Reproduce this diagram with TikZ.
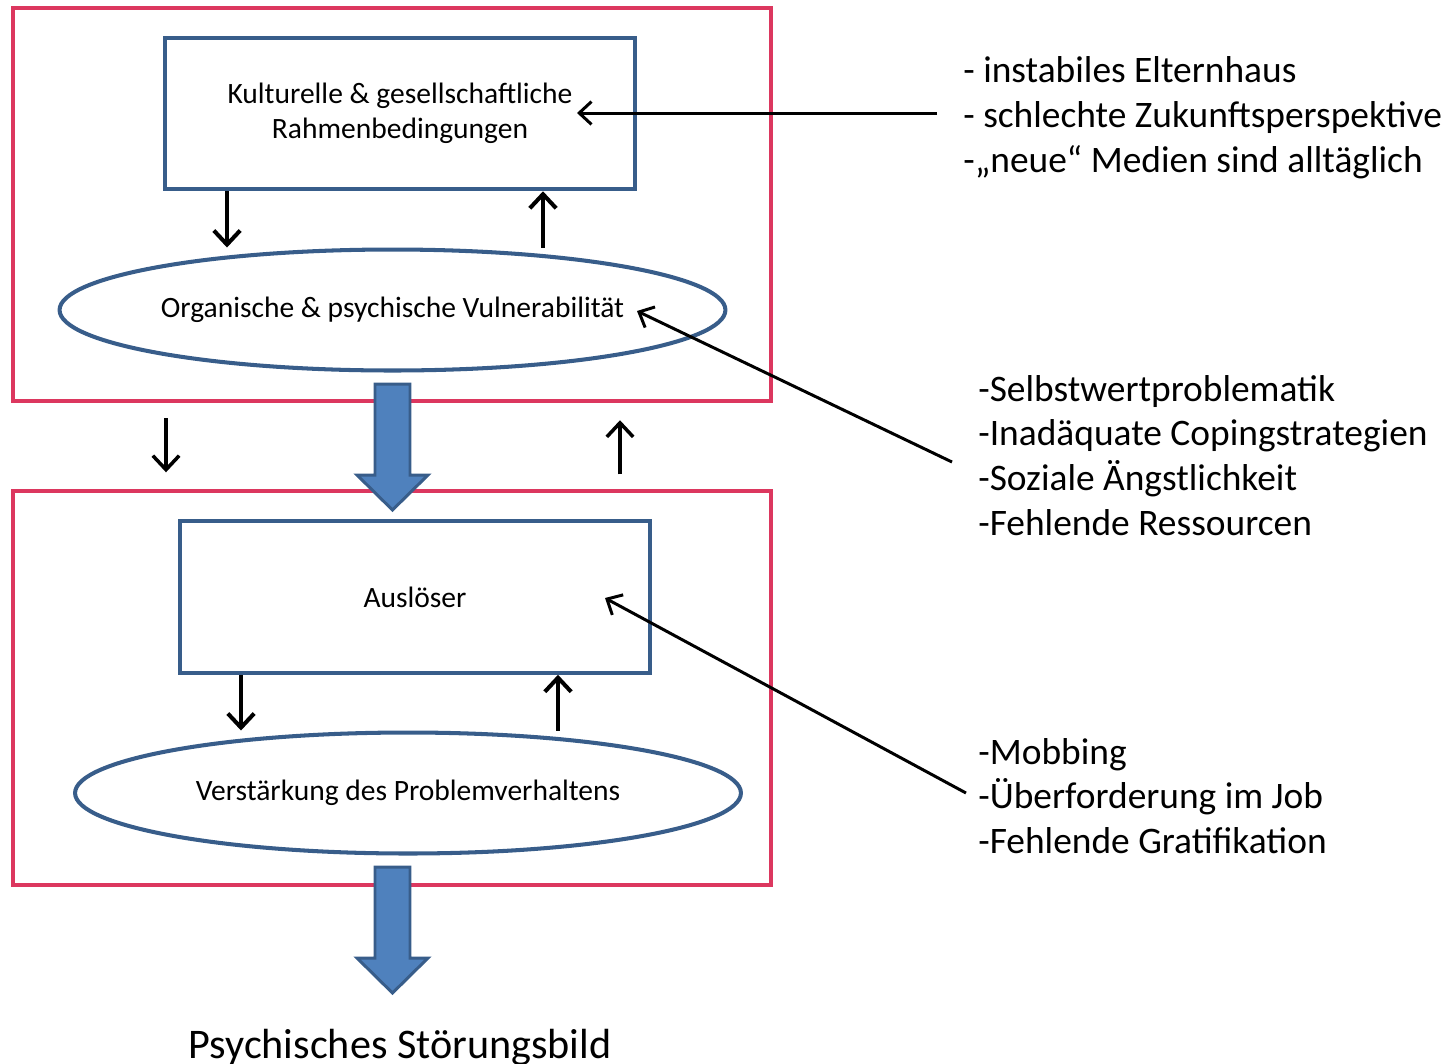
\documentclass[tikz,border=0pt]{standalone}
\usepackage{fontspec}
\setmainfont{Carlito}
\usetikzlibrary{arrows.meta, shapes.geometric, positioning}
\definecolor{framecol}{RGB}{220,55,95}
\definecolor{boxcol}{RGB}{56,93,138}
\definecolor{blockcol}{RGB}{79,129,189}

\begin{document}
\begin{tikzpicture}[x=0.02cm, y=-0.02cm,
  frame/.style={draw=framecol, line width=2.3pt, minimum width=15.16cm, minimum height=7.87cm},
  stage/.style={draw=boxcol, line width=2.3pt, minimum width=9.4cm, minimum height=3.03cm, align=center, font=\fontsize{16.8}{20}\selectfont},
  factor/.style={draw=boxcol, line width=2.3pt, ellipse, minimum width=13.32cm, minimum height=2.42cm, inner sep=0pt, font=\fontsize{16.8}{20}\selectfont},
  cues/.style={anchor=west, align=left, inner sep=0pt, font=\fontsize{21.3}{25.5}\selectfont},
  feed/.style={-{Straight Barb[length=8pt,width=15pt]}, line width=2.3pt},
  gap/.style={-{Straight Barb[length=8pt,width=15pt]}, line width=2pt},
  link/.style={-{Straight Barb[length=7pt,width=13pt]}, line width=1.7pt},
  block/.style={fill=blockcol, draw=boxcol, line width=1.7pt, line join=miter}]
  \useasboundingbox (0,0) rectangle (1448,1063);

  % outer frames
  \node[frame] (upper) at (392,204.5) {};
  \node[frame] (lower) at (392,688) {};

  % inner stages
  \node[stage] (kultur) at (400,113.5) {Kulturelle \& gesellschaftliche\\Rahmenbedingungen};
  \node[factor] (vuln) at (392.5,310) {Organische \& psychische Vulnerabilität};
  \node[stage] (ausl) at (415,597) {Auslöser};
  \node[factor] (verst) at (408,793) {Verstärkung des Problemverhaltens};
  \node[font=\fontsize{24}{28}\selectfont, anchor=base, inner sep=0pt] (bild) at (400,1058) {Psychisches Störungsbild};

  % right-hand lists
  \node[cues] (eltern) at (963,118) {- instabiles Elternhaus\\- schlechte Zukunftsperspektive\\-„neue“ Medien sind alltäglich};
  \node[cues] (selbst) at (978,455.5) {-Selbstwertproblematik\\-Inadäquate Copingstrategien\\-Soziale Ängstlichkeit\\-Fehlende Ressourcen};
  \node[cues] (mobbing) at (978,796) {-Mobbing\\-Überforderung im Job\\-Fehlende Gratifikation};

  % x positions of the small arrows
  \coordinate (xa) at (227,0);
  \coordinate (xb) at (543,0);
  \coordinate (xc) at (241,0);
  \coordinate (xd) at (558,0);
  \draw[feed] (kultur.south -| xa) -- (vuln.north -| xa);
  \draw[feed] (vuln.north -| xb) -- (kultur.south -| xb);
  \draw[feed] (ausl.south -| xc) -- (verst.north -| xc);
  \draw[feed] (verst.north -| xd) -- (ausl.south -| xd);

  % between the frames
  \coordinate (xe) at (166,0);
  \coordinate (xf) at (620,0);
  \draw[gap] ([yshift=-0.3cm]upper.south -| xe) -- ([yshift=0.34cm]lower.north -| xe);
  \draw[gap] ([yshift=0.3cm]lower.north -| xf) -- ([yshift=-0.34cm]upper.south -| xf);

  % block arrows
  \foreach \yt/\yb in {384/475, 867/958}
    \draw[block] (375,\yt) -- (410,\yt) -- (410,\yb) -- (428,\yb) -- (392.5,\yb+35) -- (357,\yb) -- (375,\yb) -- cycle;

  % influence arrows
  \coordinate (kin) at (577,0);
  \coordinate (vin) at (637,311);
  \coordinate (ain) at (605,598);
  \draw[link] ([shift={(-26,-5)}]eltern.west) -- ([shift={(0,-5)}]eltern.west -| kin);
  \draw[link] ([shift={(-26,6.5)}]selbst.west) -- (vin);
  \draw[link] ([shift={(-12,-3)}]mobbing.west) -- (ain);
\end{tikzpicture}
\end{document}
